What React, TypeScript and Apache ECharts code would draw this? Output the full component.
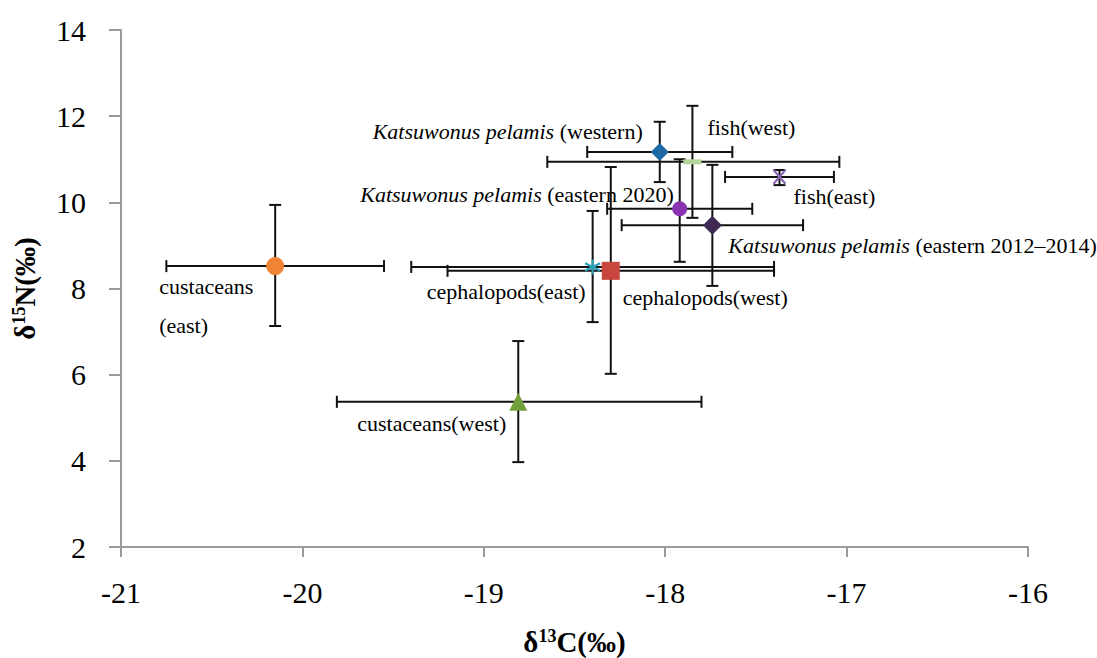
import React, { useEffect, useRef } from "react";
import * as echarts from "echarts";

const groups = [
  "custaceans (east)",
  "custaceans (west)",
  "cephalopods (east)",
  "cephalopods (west)",
  "Katsuwonus pelamis (western)",
  "fish (west)",
  "Katsuwonus pelamis (eastern 2020)",
  "Katsuwonus pelamis (eastern 2012–2014)",
  "fish (east)",
];
const labelTexts = [
  "custaceans\n(east)",
  "custaceans(west)",
  "cephalopods(east)",
  "cephalopods(west)",
  "{i|Katsuwonus pelamis} (western)",
  "fish(west)",
  "{i|Katsuwonus pelamis} (eastern 2020)",
  "{i|Katsuwonus pelamis} (eastern 2012–2014)",
  "fish(east)",
];
const d13C = [-20.15, -18.81, -18.4, -18.3, -18.03, -17.85, -17.92, -17.74, -17.37];
const d15N = [8.52, 5.37, 8.5, 8.41, 11.17, 10.94, 9.85, 9.47, 10.59];
const d13CLow = [-20.75, -19.81, -19.4, -19.2, -18.43, -18.65, -18.32, -18.24, -17.67];
const d13CHigh = [-19.55, -17.8, -17.4, -17.4, -17.63, -17.04, -17.52, -17.24, -17.07];
const d15NLow = [7.13, 3.97, 7.22, 6.02, 10.47, 9.64, 8.62, 8.06, 10.4];
const d15NHigh = [9.94, 6.78, 9.8, 10.82, 11.87, 12.24, 11.0, 10.87, 10.75];

const xTicks = { min: -21, max: -16, interval: 1 };
const yTicks = { min: 2, max: 14, interval: 2 };

const SERIF = "'Liberation Serif', 'DejaVu Serif', serif";
const LABEL_SIZE = 22;

const asteriskPath = "path://M10,0L10,20M1.34,5L18.66,15M1.34,15L18.66,5";
const xPath = "path://M0,0L20,20M0,20L20,0";

const markStyles: any[] = [
  { symbol: "circle", size: 18, color: "#EE8434", align: "left", off: [-116, 40] },
  { symbol: "triangle", size: 18, color: "#72A03A", align: "right", off: [-12, 22] },
  { symbol: asteriskPath, size: 15, color: "#2AA3B8", stroke: true, align: "right", off: [-7, 25] },
  { symbol: "rect", size: 18, color: "#C8463E", align: "left", off: [12, 27] },
  { symbol: "diamond", size: 18, color: "#1F6AA5", align: "right", off: [-17, -20] },
  { symbol: "rect", size: [18, 5], color: "#B5D69A", align: "left", off: [15, -34] },
  { symbol: "circle", size: 15, color: "#8A34B3", align: "right", off: [-6, -14] },
  { symbol: "diamond", size: 19, color: "#3D2952", align: "left", off: [16, 20] },
  { symbol: xPath, size: [12, 14], color: "#8B6BB5", stroke: true, align: "left", off: [14, 20] },
];

export default function App() {
  const ref = useRef<HTMLDivElement>(null);
  useEffect(() => {
    if (!ref.current) return;
    const chart = echarts.init(ref.current, null, { renderer: "svg" });

    const errData = groups.map((_, i) => [
      d13C[i],
      d15N[i],
      d13CLow[i],
      d13CHigh[i],
      d15NLow[i],
      d15NHigh[i],
    ]);

    const cap = 6;
    const lineStyle = { stroke: "#111", lineWidth: 2 };

    const errorSeries: any = {
      type: "custom",
      name: "error",
      z: 1,
      silent: true,
      encode: { x: 0, y: 1 },
      data: errData,
      renderItem: (params: any, api: any) => {
        const x = api.value(0);
        const y = api.value(1);
        const pl = api.coord([api.value(2), y]);
        const ph = api.coord([api.value(3), y]);
        const pb = api.coord([x, api.value(4)]);
        const pt = api.coord([x, api.value(5)]);
        const mk = (x1: number, y1: number, x2: number, y2: number) => ({
          type: "line",
          shape: { x1, y1, x2, y2 },
          style: lineStyle,
        });
        return {
          type: "group",
          children: [
            mk(pl[0], pl[1], ph[0], ph[1]),
            mk(pl[0], pl[1] - cap, pl[0], pl[1] + cap),
            mk(ph[0], ph[1] - cap, ph[0], ph[1] + cap),
            mk(pb[0], pb[1], pt[0], pt[1]),
            mk(pb[0] - cap, pb[1], pb[0] + cap, pb[1]),
            mk(pt[0] - cap, pt[1], pt[0] + cap, pt[1]),
          ],
        };
      },
    };

    const scatterSeries = groups.map((g, i) => {
      const s = markStyles[i];
      return {
        type: "scatter",
        name: g,
        z: 3,
        symbol: s.symbol,
        symbolSize: s.size,
        symbolKeepAspect: false,
        itemStyle: s.stroke
          ? { color: s.color, borderColor: s.color, borderWidth: 2.2, opacity: 1 }
          : { color: s.color, opacity: 1 },
        label: {
          show: true,
          position: "inside",
          offset: s.off,
          align: s.align,
          verticalAlign: "middle",
          formatter: labelTexts[i],
          color: "#000",
          opacity: 1,
          fontFamily: SERIF,
          fontSize: LABEL_SIZE,
          lineHeight: 39,
          rich: {
            i: { fontStyle: "italic", fontFamily: SERIF, fontSize: LABEL_SIZE, color: "#000" },
          },
        },
        data: [[d13C[i], d15N[i]]],
      };
    });

    const titleRich = {
      a: { fontFamily: SERIF, fontSize: 29, fontWeight: "bold", color: "#000" },
      s: { fontFamily: SERIF, fontSize: 18, fontWeight: "bold", color: "#000", verticalAlign: "top", padding: [0, 0, 10, 0] },
    };

    chart.setOption({
      animation: false,
      grid: { left: 121, right: 69, top: 30, bottom: 111, containLabel: false, outerBoundsMode: "none" },
      xAxis: {
        type: "value",
        min: xTicks.min,
        max: xTicks.max,
        interval: xTicks.interval,
        name: "{a|δ}{s|13}{a|C(‰)}",
        nameLocation: "middle",
        nameGap: 80,
        nameTextStyle: { rich: titleRich },
        axisLine: { show: true, onZero: false, lineStyle: { color: "#9a9a9a", width: 2 } },
        axisTick: { show: true, length: 10, lineStyle: { color: "#9a9a9a", width: 2 } },
        axisLabel: { fontFamily: SERIF, fontSize: 30, color: "#000", margin: 30 },
        splitLine: { show: false },
      },
      yAxis: {
        type: "value",
        min: yTicks.min,
        max: yTicks.max,
        interval: yTicks.interval,
        name: "{a|δ}{s|15}{a|N(‰)}",
        nameLocation: "middle",
        nameRotate: 90,
        nameGap: 82,
        nameTextStyle: { rich: titleRich },
        axisLine: { show: true, onZero: false, lineStyle: { color: "#9a9a9a", width: 2 } },
        axisTick: { show: true, length: 12, lineStyle: { color: "#9a9a9a", width: 2 } },
        axisLabel: { fontFamily: SERIF, fontSize: 30, color: "#000", margin: 35 },
        splitLine: { show: false },
      },
      series: [errorSeries, ...scatterSeries],
    });

    return () => chart.dispose();
  }, []);

  return <div ref={ref} style={{ width: 1097, height: 658, position: "absolute", left: 0, top: 0 }} />;
}
